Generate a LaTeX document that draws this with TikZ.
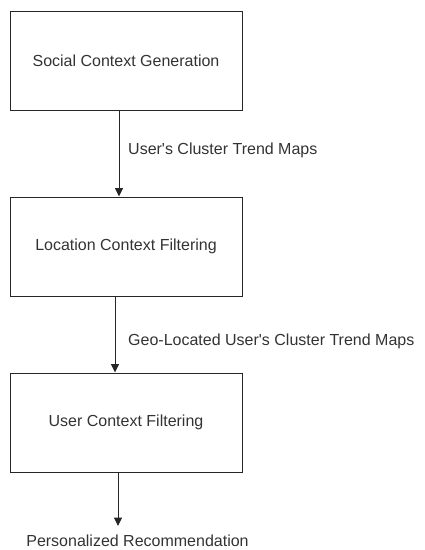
\documentclass[tikz,border=0pt]{standalone}
\usepackage{fontspec}
\setmainfont{Liberation Sans}[Ligatures=TeXOff]
\usetikzlibrary{arrows.meta}
\begin{document}
\begin{tikzpicture}[x=1pt,y=-1pt,
  box/.style={draw=black!85, line width=1pt, minimum width=232pt, minimum height=99pt,
    font=\fontsize{16}{19}\selectfont, text=black!80, inner sep=0pt},
  flow/.style={draw=black!85, line width=1pt, -{Triangle[length=8.5pt,width=8pt]}},
  lbl/.style={font=\fontsize{16}{19}\selectfont, text=black!80, inner sep=0pt}]
\useasboundingbox (0,0) rectangle (425,550);
\node[box] (s) at (126,60.5) {Social Context Generation};
\node[box] (l) at (126,246.5) {Location Context Filtering};
\node[box] (u) at (126,422.5) {User Context Filtering};
\coordinate (a1) at (119,0);
\coordinate (a2) at (115,0);
\coordinate (a3) at (118,0);
\coordinate (end) at (118,526);
\draw[flow] (s.south -| a1) -- (l.north -| a1);
\draw[flow] (l.south -| a2) -- (u.north -| a2);
\draw[flow] (u.south -| a3) -- (end);
\node[lbl, anchor=west] (t1) at (128,150) {User's Cluster Trend Maps};
\node[lbl, anchor=west] (t2) at (128,341) {Geo-Located User's Cluster Trend Maps};
\node[lbl] (t3) at (137.5,541) {Personalized Recommendation};
\end{tikzpicture}
\end{document}
